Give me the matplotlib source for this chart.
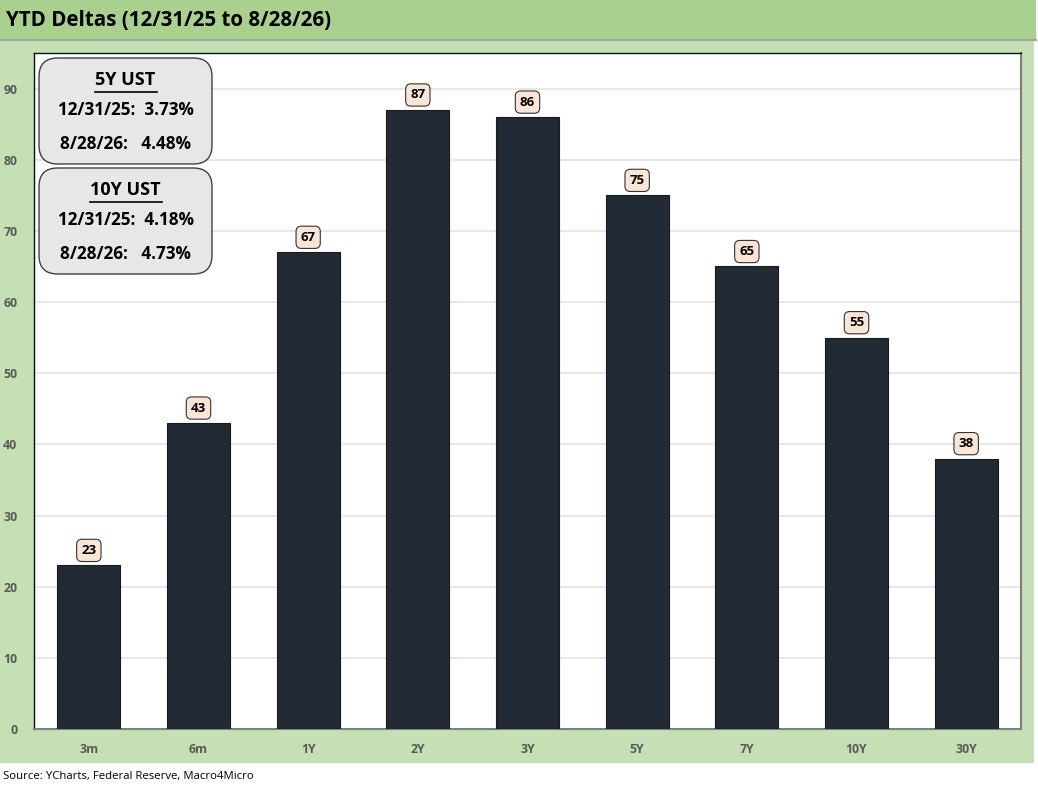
import matplotlib.pyplot as plt
from matplotlib.patches import Rectangle, FancyBboxPatch

categories = ['3m', '6m', '1Y', '2Y', '3Y', '5Y', '7Y', '10Y', '30Y']
deltas = [23, 43, 67, 87, 86, 75, 65, 55, 38]

title = 'YTD Deltas (12/31/25 to 8/28/26)'
source = 'Source: YCharts, Federal Reserve, Macro4Micro'
box_titles = ['5Y UST', '10Y UST']
box_lines = [['12/31/25:  3.73%', '8/28/26:   4.48%'],
             ['12/31/25:  4.18%', '8/28/26:   4.73%']]

plt.rcParams['font.family'] = ['Open Sans', 'DejaVu Sans']

W, H = 1038, 793
fig = plt.figure(figsize=(W / 100, H / 100), dpi=100)
fig.patch.set_facecolor('white')

# background bands (figure pixel coords -> fractions)
def fx(px):
    return px / W

def fy(py):
    return 1 - py / H

fig.patches.append(Rectangle((0, fy(763)), fx(1034), fy(40) - fy(763),
                             transform=fig.transFigure, facecolor='#c5e0b4',
                             edgecolor='none', zorder=-10))
fig.patches.append(Rectangle((0, fy(39)), fx(1036), fy(0) - fy(39),
                             transform=fig.transFigure, facecolor='#a9d08e',
                             edgecolor='none', zorder=-10))
fig.lines.append(plt.Line2D([0, fx(1036)], [fy(39.5), fy(39.5)],
                            transform=fig.transFigure, color='#9aa894', lw=1.5, zorder=-9))

fig.text(fx(6), fy(21), title, fontsize=14.8, fontweight='bold', va='center',
         ha='left', color='black')
fig.text(fx(3), fy(777), source, fontsize=8.2, va='center', ha='left', color='black')

ax = fig.add_axes([fx(34), fy(729), fx(1021) - fx(34), fy(53) - fy(729)])
ax.set_facecolor('white')
x = range(len(categories))
ax.bar(x, deltas, width=0.575, color='#222a35', edgecolor='#1a1a1a', linewidth=0.8, zorder=3)

for i, v in enumerate(deltas):
    ax.text(i, v + 2.1, str(v), ha='center', va='center', fontsize=9.5, fontweight='bold',
            zorder=5,
            bbox=dict(boxstyle='round,pad=0.35,rounding_size=0.4', facecolor='#fbe5d6',
                      edgecolor='#333333', linewidth=0.8))

ax.set_xlim(-0.5, len(categories) - 0.5)
ax.set_ylim(0, 95)
ax.set_yticks(range(0, 100, 10))
ax.set_xticks(list(x))
ax.set_xticklabels(categories)
ax.yaxis.grid(True, color='#e3e3e3', linewidth=1.2, zorder=0)
ax.set_axisbelow(True)
ax.tick_params(axis='both', length=0, labelsize=8.8, labelcolor='#595959')
for lab in ax.get_xticklabels() + ax.get_yticklabels():
    lab.set_fontweight('bold')
ax.tick_params(axis='x', pad=10)
ax.tick_params(axis='y', pad=12)
for s in ['top', 'left']:
    ax.spines[s].set_color('#111111')
    ax.spines[s].set_linewidth(1.0)
for s in ['right', 'bottom']:
    ax.spines[s].set_color('#7f7f7f')
    ax.spines[s].set_linewidth(1.5)

# info boxes
box_tops = [58, 168]
for bt, head, lines in zip(box_tops, box_titles, box_lines):
    x0, x1 = 39, 212
    y0, y1 = bt, bt + 106
    fig.patches.append(FancyBboxPatch((fx(x0), fy(y1)), fx(x1) - fx(x0), fy(y0) - fy(y1),
                                      boxstyle='round,pad=0,rounding_size=0.018',
                                      transform=fig.transFigure, facecolor='#e7e7e7',
                                      edgecolor='#404040', linewidth=1.0, zorder=10,
                                      mutation_aspect=W / H))
    cx = fx((x0 + x1) / 2)
    fig.text(cx, fy(y0 + 22), head, fontsize=13, fontweight='bold', ha='center',
             va='center', zorder=11)
    half = 31 if head == '5Y UST' else 36
    fig.lines.append(plt.Line2D([fx((x0 + x1) / 2 - half), fx((x0 + x1) / 2 + half)],
                                [fy(y0 + 34), fy(y0 + 34)], transform=fig.transFigure,
                                color='black', lw=1.2, zorder=11))
    fig.text(cx, fy(y0 + 52), lines[0], fontsize=12.3, fontweight='bold', ha='center',
             va='center', zorder=11)
    fig.text(cx, fy(y0 + 86), lines[1], fontsize=12.3, fontweight='bold', ha='center',
             va='center', zorder=11)

fig.savefig('out.png', dpi=100)
